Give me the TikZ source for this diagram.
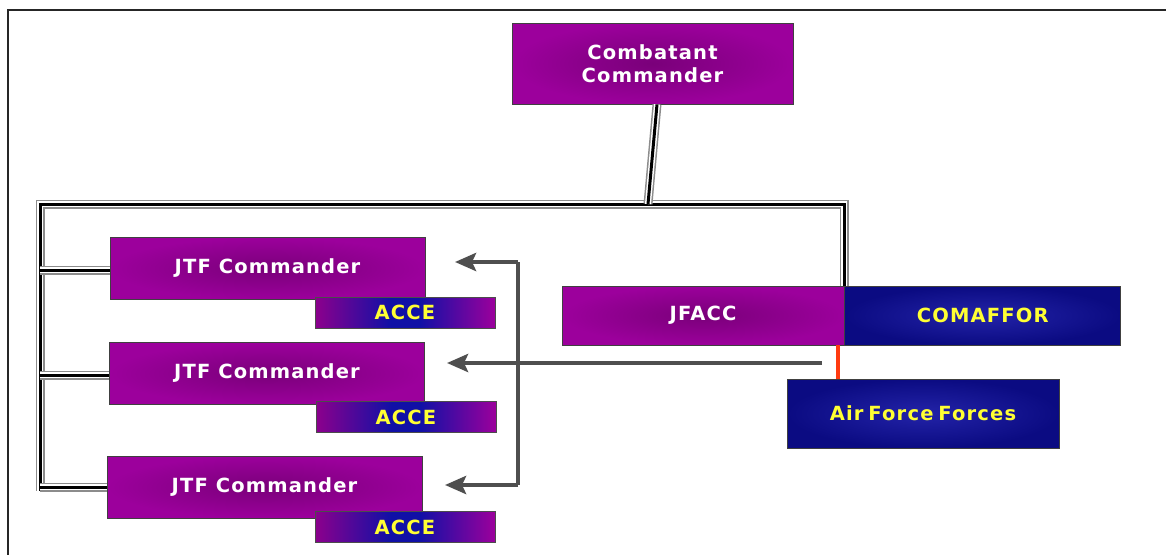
\documentclass[tikz,border=0pt]{standalone}
\usepackage{fontspec}
\setmainfont{Liberation Sans}
\newfontfamily\boxfont{DejaVu Sans}[LetterSpace=6]
\usetikzlibrary{arrows.meta, positioning, calc}
\definecolor{purpo}{HTML}{9C009C}
\definecolor{purpi}{HTML}{7A007A}
\definecolor{navyo}{HTML}{0B0B82}
\definecolor{navyi}{HTML}{2323A8}
\definecolor{accb}{HTML}{1010A6}
\definecolor{txty}{HTML}{FFFF33}
\definecolor{arrg}{HTML}{4F4F4F}
\definecolor{redl}{HTML}{FF3A10}
\pgfdeclarehorizontalshading{acceshade}{100bp}{color(0bp)=(purpo!90!black);
  color(25bp)=(purpo!90!black); color(46bp)=(accb); color(54bp)=(accb);
  color(75bp)=(purpo); color(100bp)=(purpo)}
\newcommand{\jtfunit}[3]{%
  \node[purpbox, minimum width=315, minimum height=62] (#1) at #2 {JTF Commander};
  \node[accebox] (#1a) at #3 {ACCE};
}

\begin{document}
\begin{tikzpicture}[x=1pt, y=-1pt, >=Stealth,
    boxtxt/.style={font=\boxfont\bfseries\fontsize{19.5}{23}\selectfont, align=center},
    purpbox/.style={boxtxt, draw=black!75, line width=0.8pt, inner sep=0pt,
      inner color=purpi, outer color=purpo, text=white},
    navybox/.style={boxtxt, draw=black!75, line width=0.8pt, inner sep=0pt,
      inner color=navyi, outer color=navyo, text=txty},
    accebox/.style={boxtxt, draw=black!70, line width=0.8pt, inner sep=0pt,
      minimum width=180, minimum height=31, shading=acceshade, text=txty},
    bus/.style={draw=black, line width=3pt,
      preaction={draw=black!45, line width=9pt},
      preaction={draw=white, line width=6pt}},
    fb/.style={draw=arrg, line width=4.5pt, line join=round},
    tip/.style={-{Stealth[length=21pt, width=18pt, inset=4pt]}}]
  \useasboundingbox (0,0) rectangle (1166,554);
  \begin{scope}
    \clip (0,0) rectangle (1166,554);
    % bus and links
    \coordinate (tl) at (40,204);
    \coordinate (bl) at (40,491);
    \coordinate (bj) at (648,204);

    \node[purpbox, minimum width=281, minimum height=81] (cc) at (652.5,63.5)
      {Combatant\\Commander};
    \node[purpbox, minimum width=282, minimum height=59] (jfacc) at (703,315.5) {JFACC};
    \node[navybox, minimum width=276, minimum height=59, anchor=west] (comaffor)
      at (jfacc.east) {COMAFFOR};
    \node[navybox, minimum width=272, minimum height=69] (aff) at (923,413.5)
      {Air\hspace{-3pt} Force\hspace{-3pt} Forces};

    \draw[bus] (jfacc.north east) -- (jfacc.north east |- tl) -- (tl) -- (bl);
    \draw[bus] ($(cc.south)+(4.5,0)$) -- (bj);

    \jtfunit{j1}{(267.5,268.5)}{(405,312.5)}
    \jtfunit{j2}{(267,373.5)}{(406,417)}
    \jtfunit{j3}{(264.5,487)}{(405,527)}
    \foreach \j/\y in {j1/270, j2/375, j3/487}
      \draw[bus] (40,\y) -- (\j.west |- 0,\y);

    % feedback arrows
    \coordinate (vt) at (518,262);
    \coordinate (vb) at (518,485);
    \coordinate (t1) at (455,262);
    \coordinate (t2) at (447,363);
    \coordinate (t3) at (445,485);
    \coordinate (src) at (822,363);
    \draw[fb, tip] (vt) -- (t1);
    \draw[fb, tip] (vb) -- (t3);
    \draw[fb] (vt) -- (vb);
    \draw[fb, tip] (src) -- (t2);
    \draw[redl, line width=4pt] (jfacc.south east -| 838,0) -- (aff.north -| 838,0);

    % frame
    \draw[black!85, line width=2.5pt] (8,560) -- (8,10) -- (1170,10);
  \end{scope}
\end{tikzpicture}
\end{document}
